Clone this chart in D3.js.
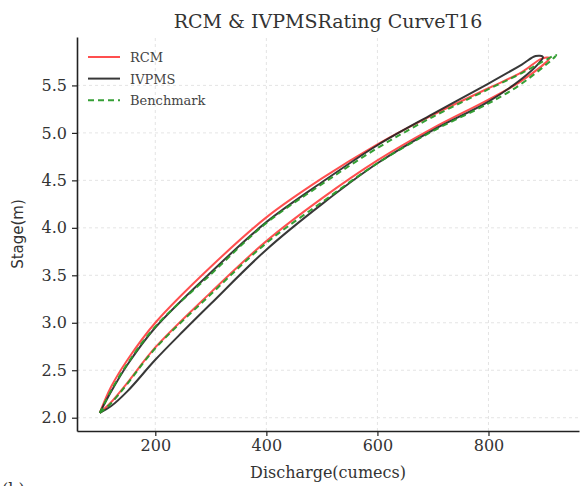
<!DOCTYPE html>
<html>
<head>
<meta charset="utf-8">
<script src="https://cdn.jsdelivr.net/npm/d3@7"></script>
<style>
  body { margin: 0; background: #fff; }
  svg { display: block; }
</style>
</head>
<body>
<script>
// rating loops (discharge in cumecs, stage in m)
// each series: rising limb then falling limb
const rcmQ     = [100, 120, 150, 200, 300, 400, 500, 600, 700, 800, 860, 910, 895, 860, 800, 700, 600, 500, 400, 300, 200, 150, 120, 100];
const rcmStage = [2.05, 2.16, 2.37, 2.74, 3.32, 3.86, 4.31, 4.71, 5.05, 5.35, 5.55, 5.79, 5.78, 5.64, 5.47, 5.19, 4.88, 4.52, 4.11, 3.59, 3.00, 2.61, 2.32, 2.05];

const ivpmsQ     = [100, 120, 150, 200, 250, 300, 400, 500, 600, 700, 800, 860, 890, 898, 885, 860, 800, 700, 600, 500, 400, 300, 200, 150, 120, 100];
const ivpmsStage = [2.05, 2.12, 2.28, 2.61, 2.91, 3.20, 3.77, 4.25, 4.68, 5.03, 5.33, 5.57, 5.73, 5.80, 5.81, 5.72, 5.52, 5.20, 4.87, 4.48, 4.06, 3.53, 2.95, 2.56, 2.27, 2.05];

const benchQ     = [100, 120, 150, 200, 300, 400, 500, 600, 700, 800, 860, 922, 860, 800, 700, 600, 500, 400, 300, 200, 150, 120, 100];
const benchStage = [2.05, 2.15, 2.36, 2.73, 3.30, 3.84, 4.27, 4.68, 5.02, 5.31, 5.52, 5.82, 5.63, 5.46, 5.17, 4.84, 4.46, 4.05, 3.51, 2.96, 2.57, 2.28, 2.05];

const xTicks = [200, 400, 600, 800];
const yTicks = [2.0, 2.5, 3.0, 3.5, 4.0, 4.5, 5.0, 5.5];

const series = [
    { name: "RCM", q: rcmQ, h: rcmStage, color: "#ff3030", dash: null, opacity: 0.85 },
    { name: "IVPMS", q: ivpmsQ, h: ivpmsStage, color: "#222", dash: null, opacity: 0.9 },
    { name: "Benchmark", q: benchQ, h: benchStage, color: "#2a9a2a", dash: "6,4", opacity: 0.95 }
];

const width = 588, height = 486;
const margin = { top: 37, right: 9, bottom: 55, left: 77 };

const svg = d3.select("body").append("svg")
    .attr("width", width)
    .attr("height", height);

const x = d3.scaleLinear().domain([59, 963]).range([margin.left, width - margin.right]);
const y = d3.scaleLinear().domain([1.86, 6.01]).range([height - margin.bottom, margin.top]);

// grid
svg.append("g")
    .selectAll("line")
    .data(xTicks)
    .join("line")
    .attr("x1", d => x(d)).attr("x2", d => x(d))
    .attr("y1", y.range()[0]).attr("y2", y.range()[1])
    .attr("stroke", "#ddd").attr("stroke-dasharray", "3,3").attr("stroke-width", 0.8);

svg.append("g")
    .selectAll("line")
    .data(yTicks)
    .join("line")
    .attr("y1", d => y(d)).attr("y2", d => y(d))
    .attr("x1", x.range()[0]).attr("x2", x.range()[1])
    .attr("stroke", "#ddd").attr("stroke-dasharray", "3,3").attr("stroke-width", 0.8);

// curves
const line = d3.line()
    .x(d => x(d[0]))
    .y(d => y(d[1]))
    .curve(d3.curveCatmullRom.alpha(0.5));

svg.append("g")
    .selectAll("path")
    .data(series)
    .join("path")
    .attr("d", s => line(s.q.map((q, i) => [q, s.h[i]])))
    .attr("fill", "none")
    .attr("stroke", s => s.color)
    .attr("stroke-width", 2)
    .attr("stroke-opacity", s => s.opacity)
    .attr("stroke-dasharray", s => s.dash);

// axes
const xAxis = svg.append("g")
    .attr("transform", `translate(0,${height - margin.bottom})`)
    .call(d3.axisBottom(x).tickValues(xTicks).tickSize(5).tickSizeOuter(0).tickPadding(4));

const yAxis = svg.append("g")
    .attr("transform", `translate(${margin.left},0)`)
    .call(d3.axisLeft(y).tickValues(yTicks).tickFormat(d3.format(".1f")).tickSize(5).tickSizeOuter(0).tickPadding(5));

[xAxis, yAxis].forEach(a => {
    a.select(".domain").attr("stroke", "#222").attr("stroke-width", 1.6);
    a.selectAll(".tick line").attr("stroke", "#222").attr("stroke-width", 1.2);
    a.selectAll(".tick text")
        .attr("font-family", "DejaVu Serif")
        .attr("font-size", 16)
        .attr("fill", "#333");
});

// titles
svg.append("text")
    .attr("x", (x.range()[0] + x.range()[1]) / 2)
    .attr("y", 28)
    .attr("text-anchor", "middle")
    .attr("font-family", "DejaVu Serif")
    .attr("font-size", 19)
    .attr("fill", "#333")
    .text("RCM & IVPMSRating CurveT16");

svg.append("text")
    .attr("x", (x.range()[0] + x.range()[1]) / 2)
    .attr("y", 478)
    .attr("text-anchor", "middle")
    .attr("font-family", "DejaVu Serif")
    .attr("font-size", 16)
    .attr("fill", "#333")
    .text("Discharge(cumecs)");

svg.append("text")
    .attr("transform", `translate(23,${(y.range()[0] + y.range()[1]) / 2}) rotate(-90)`)
    .attr("text-anchor", "middle")
    .attr("font-family", "DejaVu Sans")
    .attr("font-size", 15)
    .attr("fill", "#333")
    .text("Stage(m)");

svg.append("text")
    .attr("x", 2)
    .attr("y", 495)
    .attr("font-family", "DejaVu Serif")
    .attr("font-size", 16)
    .attr("fill", "#333")
    .text("(b)");

// legend
const legend = svg.append("g")
    .selectAll("g")
    .data(series)
    .join("g")
    .attr("transform", (d, i) => `translate(88,${57 + i * 21.6})`);

legend.append("line")
    .attr("x1", 0).attr("x2", 32)
    .attr("stroke", d => d.color)
    .attr("stroke-width", 2)
    .attr("stroke-opacity", d => d.opacity)
    .attr("stroke-dasharray", d => d.dash);

legend.append("text")
    .attr("x", 42)
    .attr("y", 5)
    .attr("font-family", "DejaVu Serif")
    .attr("font-size", 13)
    .attr("fill", "#444")
    .text(d => d.name);
</script>
</body>
</html>
